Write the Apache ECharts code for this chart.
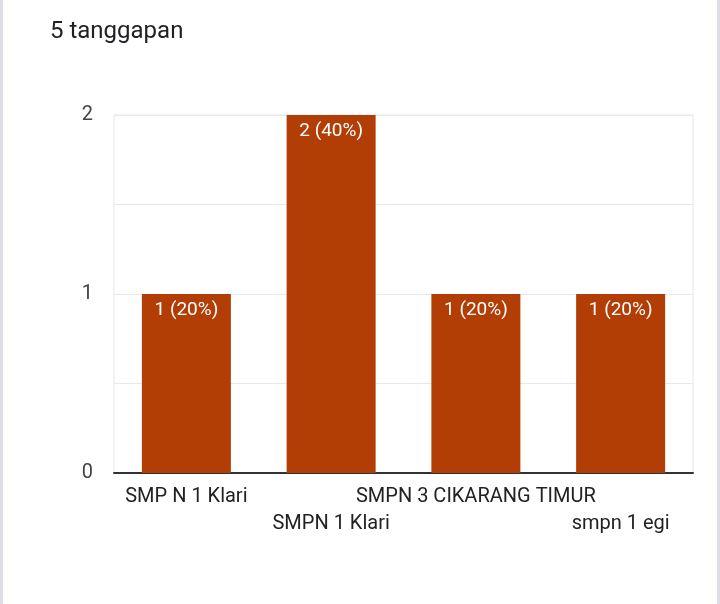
<!DOCTYPE html>
<html>
<head>
<meta charset="utf-8">
<script src="https://cdn.jsdelivr.net/npm/echarts@6/dist/echarts.min.js"></script>
<style>
  html, body { margin: 0; padding: 0; background: #fff; }
  #wrap { position: relative; width: 720px; height: 604px; overflow: hidden; }
  #chart { position: absolute; left: 0; top: 0; width: 720px; height: 604px; }
  #lb { position: absolute; left: 0; top: 0; width: 3px; height: 604px; background: #dcdde6; }
  #rb { position: absolute; right: 0; top: 0; width: 3px; height: 604px; background: #dcdde6; }
</style>
</head>
<body>
<div id="wrap">
  <div id="chart"></div>
  <div id="lb"></div>
  <div id="rb"></div>
</div>
<script>
const titleText = '5 tanggapan';
const categories = ['SMP N 1 Klari', 'SMPN 1 Klari', 'SMPN 3 CIKARANG TIMUR', 'smpn 1 egi'];
const counts = [1, 2, 1, 1];
const percents = [20, 40, 20, 20];
const yTicks = [0, 1, 2];

const chart = echarts.init(document.getElementById('chart'));
chart.setOption({
  animation: false,
  backgroundColor: '#ffffff',
  textStyle: { fontFamily: 'Roboto, sans-serif' },
  title: {
    text: titleText,
    left: 45,
    top: 15,
    textStyle: { fontFamily: 'Roboto, sans-serif', fontSize: 24, fontWeight: 'normal', color: '#202124' }
  },
  grid: {
    left: 114, right: 27, top: 115, bottom: 131,
    show: true, borderColor: '#e6e6e6', borderWidth: 1
  },
  xAxis: {
    type: 'category',
    data: categories,
    axisLine: { show: true, lineStyle: { color: '#333333', width: 2 } },
    axisTick: { show: false },
    axisLabel: {
      interval: 0,
      margin: 10,
      fontSize: 20,
      lineHeight: 27,
      color: '#222222',
      formatter: (v, i) => (i % 2 === 1 ? '\n' + v : v)
    }
  },
  yAxis: {
    type: 'value',
    min: 0,
    max: 2,
    interval: 0.5,
    axisLine: { show: false },
    axisTick: { show: false },
    splitLine: { lineStyle: { color: '#e8e8e8', width: 1 } },
    axisLabel: {
      margin: 21,
      fontSize: 20,
      color: '#444444',
      formatter: v => (yTicks.includes(v) ? String(v) : '')
    }
  },
  series: [{
    type: 'bar',
    data: counts,
    barWidth: 89,
    itemStyle: { color: '#b23e05' },
    label: {
      show: true,
      position: 'insideTop',
      distance: 7,
      color: '#ffffff',
      fontSize: 19,
      formatter: p => p.value + ' (' + percents[p.dataIndex] + '%)'
    }
  }]
});
</script>
</body>
</html>
